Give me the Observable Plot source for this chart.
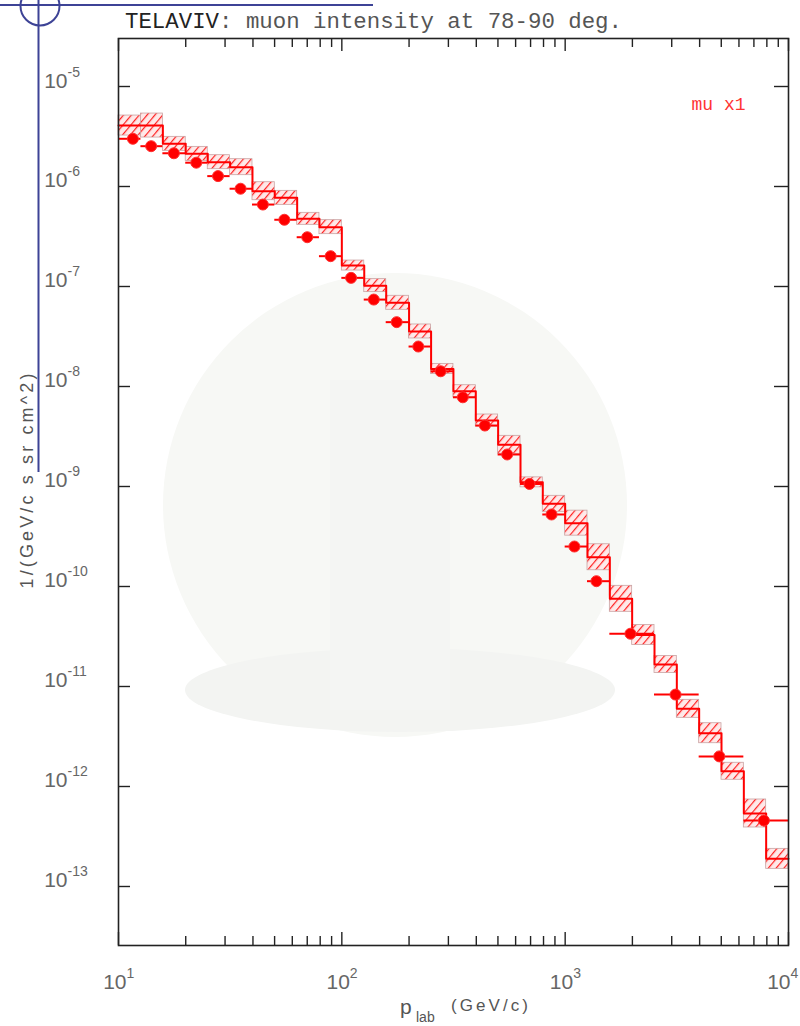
<!DOCTYPE html>
<html><head><meta charset="utf-8">
<script src="https://cdn.jsdelivr.net/npm/d3@7"></script>
<script src="https://cdn.jsdelivr.net/npm/@observablehq/plot@0.6"></script>
<style>
body{margin:0;background:#fff;}
#wrap{position:relative;width:800px;height:1026px;overflow:hidden;background:#fff;}
#bg,#chart,#over{position:absolute;left:0;top:0;}
</style></head><body>
<div id="wrap">
<svg id="bg" width="800" height="1026">
  <circle cx="395" cy="505" r="232" fill="#f7f8f5"/>
  <ellipse cx="400" cy="690" rx="215" ry="42" fill="#f3f4f2"/>
  <rect x="330" y="380" width="120" height="330" fill="#f4f5f3"/>
</svg>
<div id="chart"></div>
<svg id="over" width="800" height="1026" font-family="'Liberation Sans', sans-serif">
  <line x1="0" y1="5" x2="373" y2="5" stroke="#3d4396" stroke-width="2"/>
  <line x1="38.5" y1="0" x2="38.5" y2="472" stroke="#3d4396" stroke-width="2"/>
  <circle cx="40" cy="6" r="19.5" fill="none" stroke="#3d4396" stroke-width="2"/>
  <text x="125" y="28" font-family="'Liberation Mono', monospace" font-size="22" textLength="497" lengthAdjust="spacingAndGlyphs" fill="#555"><tspan fill="#222">TELAVIV</tspan>: muon intensity at 78-90 deg.</text>
  <text transform="translate(33,481) rotate(-90)" text-anchor="middle" font-size="18" textLength="215" lengthAdjust="spacing" fill="#555">1/(GeV/c s sr cm^2)</text>
  <text x="400" y="1014" font-size="21" fill="#555">p</text>
  <text x="416" y="1022" font-size="14" fill="#555">lab</text>
  <text x="451" y="1011" font-size="17" textLength="77" lengthAdjust="spacing" fill="#555">(GeV/c)</text>
</svg>
</div>
<script>
// Bin edges (GeV/c)
const binEdges = [10, 12.6, 15.8, 20, 25.1, 31.6, 39.8, 50.1, 63.1, 79.4, 100, 126, 158, 200, 251, 316, 398, 501, 631, 794, 1000, 1259, 1585, 1995, 2512, 3162, 3981, 5012, 6310, 7943, 10000];
// Model histogram (step) values per bin
const theoryFlux = [4.07e-6, 4.07e-6, 2.67e-6, 2.12e-6, 1.75e-6, 1.56e-6, 8.97e-7, 7.7e-7, 4.75e-7, 3.92e-7, 1.62e-7, 1.02e-7, 6.87e-8, 3.55e-8, 1.50e-8, 8.97e-9, 4.57e-9, 2.61e-9, 1.10e-9, 6.71e-10, 4.30e-10, 1.96e-10, 7.53e-11, 3.27e-11, 1.66e-11, 5.98e-12, 3.41e-12, 1.42e-12, 5.37e-13, 1.89e-13];
// Hatched band half-width (decades)
const theoryErrDex = [0.10, 0.12, 0.07, 0.07, 0.07, 0.08, 0.09, 0.07, 0.06, 0.07, 0.05, 0.065, 0.07, 0.07, 0.05, 0.06, 0.06, 0.09, 0.05, 0.08, 0.125, 0.13, 0.13, 0.10, 0.085, 0.09, 0.10, 0.085, 0.14, 0.10];
// Measured points
const dataP = [11.6, 14.0, 17.7, 22.3, 27.9, 35.2, 44.3, 55.3, 70.0, 89.1, 110, 139, 176, 220, 277, 348, 437, 550, 692, 869, 1100, 1380, 1960, 3120, 4900, 7760];
const dataLo = [10, 12.6, 15.8, 20, 25.1, 31.6, 39.8, 50.1, 63.1, 79.4, 100, 126, 158, 200, 251, 316, 398, 501, 631, 794, 1000, 1259, 1585, 2512, 3981, 6310];
const dataHi = [12.6, 15.8, 20, 25.1, 31.6, 39.8, 50.1, 63.1, 79.4, 100, 126, 158, 200, 251, 316, 398, 501, 631, 794, 1000, 1259, 1585, 2512, 3981, 6310, 10000];
const dataFlux = [3.0e-6, 2.53e-6, 2.15e-6, 1.73e-6, 1.27e-6, 9.5e-7, 6.6e-7, 4.65e-7, 3.11e-7, 2.01e-7, 1.22e-7, 7.4e-8, 4.4e-8, 2.51e-8, 1.42e-8, 7.8e-9, 4.07e-9, 2.09e-9, 1.06e-9, 5.25e-10, 2.51e-10, 1.13e-10, 3.37e-11, 8.3e-12, 2.0e-12, 4.57e-13];
// Axis ticks
const xMajor = [10, 100, 1000, 10000];
const xMajorExp = ["1", "2", "3", "4"];
const xMinor = [20, 30, 40, 50, 60, 70, 80, 90, 200, 300, 400, 500, 600, 700, 800, 900, 2000, 3000, 4000, 5000, 6000, 7000, 8000, 9000];
const yMajor = [1e-5, 1e-6, 1e-7, 1e-8, 1e-9, 1e-10, 1e-11, 1e-12, 1e-13];
const yMajorExp = ["-5", "-6", "-7", "-8", "-9", "-10", "-11", "-12", "-13"];
const legendText = "mu x1";

const W = 800, H = 1026, mL = 118, mR = 12, mT = 38, mB = 81;
const fW = W - mL - mR, fH = H - mT - mB;
const RED = "#ff0000";

const bins = theoryFlux.map((v, i) => ({
  x1: binEdges[i], x2: binEdges[i + 1], y: v,
  lo: v / Math.pow(10, theoryErrDex[i]), hi: v * Math.pow(10, theoryErrDex[i])
}));
const stepPts = bins.map(b => ({x: b.x1, y: b.y})).concat([{x: binEdges[binEdges.length - 1], y: theoryFlux[theoryFlux.length - 1]}]);
const pts = dataP.map((p, i) => ({p, lo: dataLo[i], hi: dataHi[i], y: dataFlux[i]}));
const xLab = xMajor.map((v, i) => ({v, e: xMajorExp[i]}));
const xLabIn = xLab.slice(0, 3), xLabEnd = xLab.slice(3);
const yLab = yMajor.map((v, i) => ({v, e: yMajorExp[i]}));
const tickFont = {fill: "#666"};

const plot = Plot.plot({
  width: W, height: H,
  marginLeft: mL, marginRight: mR, marginTop: mT, marginBottom: mB,
  style: {background: "transparent", fontFamily: "'Liberation Sans', sans-serif"},
  x: {type: "log", domain: [10, 10000], axis: null},
  y: {type: "log", domain: [2.57e-14, 3.02e-5], axis: null},
  marks: [
    Plot.rect(bins, {x1: "x1", x2: "x2", y1: "lo", y2: "hi", fill: "url(#hatch)", stroke: "#c9a3a3", strokeWidth: 0.8}),
    Plot.line(stepPts, {x: "x", y: "y", curve: "step-after", stroke: RED, strokeWidth: 2}),
    Plot.ruleY(pts, {y: "y", x1: "lo", x2: "hi", stroke: RED, strokeWidth: 2}),
    Plot.dot(pts, {x: "p", y: "y", r: 5.5, fill: RED, stroke: "#ff3030", strokeWidth: 1}),
    Plot.frame({stroke: "#222", strokeWidth: 1.6}),
    // x ticks bottom & top (inward)
    Plot.tickX(xMinor, {x: d => d, insetTop: fH - 9, stroke: "#222", strokeWidth: 1.4}),
    Plot.tickX(xMajor, {x: d => d, insetTop: fH - 13, stroke: "#222", strokeWidth: 1.4}),
    Plot.tickX(xMinor, {x: d => d, insetBottom: fH - 9, stroke: "#222", strokeWidth: 1.4}),
    Plot.tickX(xMajor, {x: d => d, insetBottom: fH - 13, stroke: "#222", strokeWidth: 1.4}),
    // y ticks left & right (inward)
    Plot.tickY(yMajor, {y: d => d, insetRight: fW - 12, stroke: "#222", strokeWidth: 1.4}),
    Plot.tickY(yMajor, {y: d => d, insetLeft: fW - 14, stroke: "#222", strokeWidth: 1.4}),
    // x tick labels
    Plot.text(xLabIn, {x: "v", frameAnchor: "bottom", text: () => "10", textAnchor: "end", lineAnchor: "bottom", dx: 8, dy: 43, fontSize: 21, ...tickFont}),
    Plot.text(xLabIn, {x: "v", frameAnchor: "bottom", text: "e", textAnchor: "start", lineAnchor: "bottom", dx: 8, dy: 32, fontSize: 14, ...tickFont}),
    Plot.text(xLabEnd, {x: "v", frameAnchor: "bottom", text: () => "10", textAnchor: "end", lineAnchor: "bottom", dx: 2, dy: 43, fontSize: 21, ...tickFont}),
    Plot.text(xLabEnd, {x: "v", frameAnchor: "bottom", text: "e", textAnchor: "start", lineAnchor: "bottom", dx: 2, dy: 32, fontSize: 14, ...tickFont}),
    // y tick labels
    Plot.text(yLab, {y: "v", frameAnchor: "left", text: () => "10", textAnchor: "end", lineAnchor: "bottom", dx: -51, dy: 1, fontSize: 21, ...tickFont}),
    Plot.text(yLab, {y: "v", frameAnchor: "left", text: "e", textAnchor: "start", lineAnchor: "bottom", dx: -51, dy: -10, fontSize: 14, ...tickFont}),
    // legend
    Plot.text([legendText], {frameAnchor: "top-right", text: d => d, textAnchor: "end", dx: -43, dy: 59, fontSize: 18, fontFamily: "'Liberation Mono', monospace", fill: "#f33"})
  ]
});

// hatch pattern definition
const ns = "http://www.w3.org/2000/svg";
const defs = document.createElementNS(ns, "defs");
defs.innerHTML = '<pattern id="hatch" patternUnits="userSpaceOnUse" width="6" height="6" patternTransform="rotate(40)">' +
  '<rect width="6" height="6" fill="#ffe9e9"/><line x1="0" y1="0" x2="0" y2="6" stroke="#ff2020" stroke-width="2.4"/></pattern>';
plot.insertBefore(defs, plot.firstChild);
document.getElementById("chart").appendChild(plot);
</script>
</body></html>
